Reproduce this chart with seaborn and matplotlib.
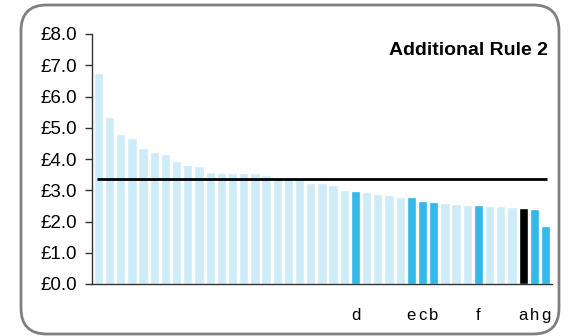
import numpy as np
import matplotlib
matplotlib.use("Agg")
import matplotlib.pyplot as plt
import seaborn as sns
from matplotlib.patches import FancyBboxPatch
from matplotlib.ticker import FuncFormatter

# bar values, sorted high to low (GBP)
values = [6.75, 5.34, 4.80, 4.67, 4.35, 4.22, 4.16, 3.94, 3.81, 3.78,
          3.58, 3.55, 3.55, 3.55, 3.55, 3.49, 3.42, 3.42, 3.37, 3.23,
          3.23, 3.17, 3.01, 2.98, 2.94, 2.88, 2.85, 2.78, 2.78, 2.66,
          2.62, 2.59, 2.56, 2.53, 2.53, 2.50, 2.50, 2.46, 2.43, 2.40,
          1.86]
# named items shown on the x axis
labels = {23: "d", 28: "e", 29: "c", 30: "b", 34: "f", 38: "a", 39: "h", 40: "g"}
highlight_black = ["a"]
threshold = 3.35
title = "Additional Rule 2"

light_blue = "#cdecf8"
mid_blue = "#33b8e8"

n = len(values)
tick_labels = [labels.get(i, "") for i in range(n)]
groups = []
for i in range(n):
    lab = labels.get(i, "")
    if lab == "":
        groups.append("other")
    elif lab in highlight_black:
        groups.append("black")
    else:
        groups.append("named")

sns.set_theme(style="white")
plt.rcParams["font.family"] = ["Liberation Sans", "DejaVu Sans"]

fig = plt.figure(figsize=(5.71, 3.36), dpi=100)
ax = fig.add_axes([92 / 571, 52 / 336, 460 / 571, 250 / 336])

sns.barplot(x=list(range(n)), y=values, hue=groups,
            palette={"other": light_blue, "named": mid_blue, "black": "black"},
            dodge=False, legend=False, width=0.83, saturation=1, ax=ax)

ax.hlines(threshold, -0.1, n - 0.9, color="black", lw=2, zorder=5)

ax.set_xlim(-0.57, n - 0.42)
ax.set_ylim(0, 8)
ax.set_yticks(np.arange(0, 8.1, 1.0))
ax.yaxis.set_major_formatter(FuncFormatter(lambda v, p: f"£{v:.1f}"))
ax.set_xticks(range(n))
ax.set_xticklabels(tick_labels, fontsize=12)
ax.tick_params(axis="x", length=0, pad=17, colors="black")
ax.tick_params(axis="y", length=5, width=1, color="#333333", labelsize=13.5,
               labelcolor="black", left=True, pad=6)

for side in ["top", "right"]:
    ax.spines[side].set_visible(False)
for side in ["left", "bottom"]:
    ax.spines[side].set_color("#333333")
    ax.spines[side].set_linewidth(1)

ax.text(0.99, 0.935, title, transform=ax.transAxes, ha="right", va="center",
        fontsize=14, fontweight="bold", color="black")

# rounded frame around the chart
frame = FancyBboxPatch((21 / 571, 2 / 336), 538 / 571, 329 / 336,
                       boxstyle="round,pad=0,rounding_size=0.045",
                       transform=fig.transFigure, fill=False,
                       edgecolor="#808080", lw=2, mutation_aspect=571 / 336)
fig.patches.append(frame)

fig.savefig("out.png", dpi=100)
